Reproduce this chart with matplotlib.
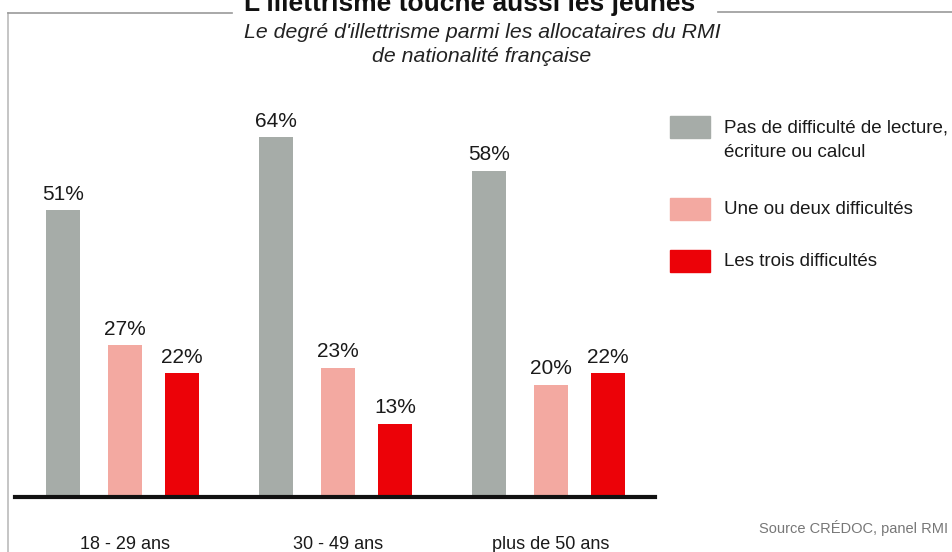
import matplotlib.pyplot as plt
from matplotlib.lines import Line2D
from matplotlib.patches import Rectangle

plt.rcParams["font.family"] = ["Liberation Sans", "DejaVu Sans"]

groups = ["18 - 29 ans", "30 - 49 ans", "plus de 50 ans"]
series = [
    "Pas de difficulté de lecture,\nécriture ou calcul",
    "Une ou deux difficultés",
    "Les trois difficultés",
]
values = [
    [51, 64, 58],
    [27, 23, 20],
    [22, 13, 22],
]
colors = ["#a6aca8", "#f3a9a1", "#ec0208"]

W, H = 953, 552
fig = plt.figure(figsize=(W / 100, H / 100), dpi=100)
fig.patch.set_facecolor("white")


def fx(px):
    return px / W


def fy(py):
    return 1 - py / H


# plot area: baseline at y=497 px, x from 15 to 655 px
ax = fig.add_axes([fx(15), fy(497), fx(640), (497 - 100) / H])
ax.set_xlim(0, 640 / 213)
ax.set_ylim(0, 397 / 5.62)

offsets = [0.225, 0.517, 0.785]
bar_w = 0.16
for s, (vals, col) in enumerate(zip(values, colors)):
    xs = [i + offsets[s] for i in range(len(groups))]
    ax.bar(xs, vals, width=bar_w, color=col, zorder=2)
    for x, v in zip(xs, vals):
        ax.text(x, v + 1.2, f"{v}%", ha="center", va="bottom", fontsize=15,
                color="#1a1a1a")

for side in ["top", "right", "left"]:
    ax.spines[side].set_visible(False)
ax.spines["bottom"].set_linewidth(3)
ax.spines["bottom"].set_color("#111111")
ax.spines["bottom"].set_zorder(3)
ax.set_yticks([])
ax.set_xticks([i + offsets[1] for i in range(len(groups))])
ax.set_xticklabels(groups, fontsize=13, color="#1a1a1a")
ax.tick_params(axis="x", length=0, pad=28)

# frame lines around the title
fig.add_artist(Line2D([fx(8), fx(8)], [fy(13), fy(552)], color="#bbbbbb", lw=1.2))
fig.add_artist(Line2D([fx(8), fx(232)], [fy(13), fy(13)], color="#999999", lw=1.2))
fig.add_artist(Line2D([fx(718), fx(953)], [fy(12), fy(12)], color="#999999", lw=1.2))

fig.text(fx(470), fy(11), "L'illettrisme touche aussi les jeunes", ha="center",
         va="baseline", fontsize=19, fontweight="bold", color="#111111")
fig.text(fx(482), fy(32), "Le degré d'illettrisme parmi les allocataires du RMI",
         ha="center", va="center", fontsize=15.3, style="italic", color="#222222")
fig.text(fx(482), fy(56), "de nationalité française", ha="center", va="center",
         fontsize=15.3, style="italic", color="#222222")

# legend
legend_y = [127, 209, 261]
for label, col, y in zip(series, colors, legend_y):
    fig.add_artist(Rectangle((fx(670), fy(y + 11)), fx(40), 22 / H,
                             color=col, transform=fig.transFigure))
    fig.text(fx(724), fy(y if "\n" not in label else y + 13), label,
             ha="left", va="center", fontsize=13.5, color="#1a1a1a",
             linespacing=1.55)

fig.text(fx(948), fy(528), "Source CRÉDOC, panel RMI", ha="right", va="center",
         fontsize=10.5, color="#777777")

fig.savefig("out.png", dpi=100, facecolor="white")
